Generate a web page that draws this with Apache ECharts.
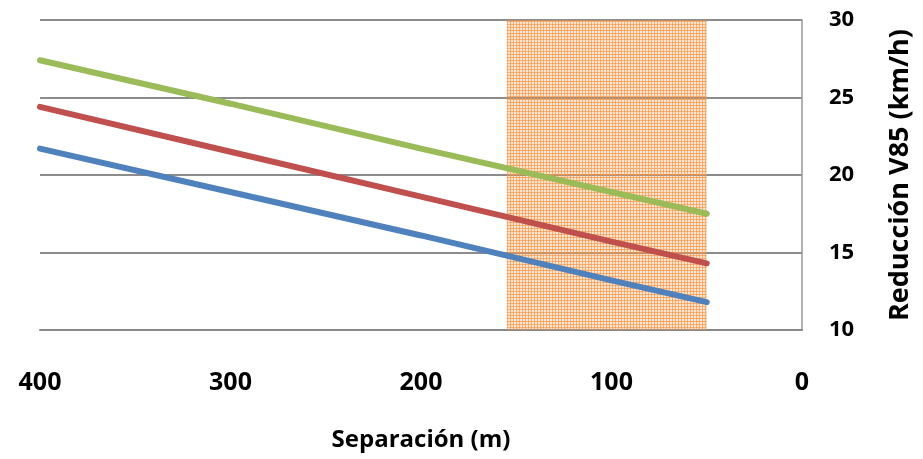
<!DOCTYPE html>
<html>
<head>
<meta charset="utf-8">
<script src="https://cdn.jsdelivr.net/npm/echarts@6/dist/echarts.min.js"></script>
<style>
    html, body { margin: 0; padding: 0; background: #fff; }
    #chart { width: 923px; height: 459px; }
</style>
</head>
<body>
<div id="chart"></div>
<script>
// separación (m) y reducción V85 (km/h)
const separacion = [400, 300, 200, 100, 50];
const serieVerde = [27.4, 24.6, 21.7, 18.9, 17.5];
const serieRoja = [24.4, 21.5, 18.6, 15.7, 14.3];
const serieAzul = [21.7, 18.9, 16.1, 13.2, 11.8];
const zonaSombreada = [50, 155];
const xTicks = [0, 100, 200, 300, 400];
const yTicks = [10, 15, 20, 25, 30];

const font = '"Open Sans", sans-serif';

function pares(vals) {
    return separacion.map((x, i) => [x, vals[i]]);
}

// trama naranja tipo rejilla
function trama() {
    const c = document.createElement('canvas');
    c.width = 3; c.height = 3;
    const ctx = c.getContext('2d');
    ctx.fillStyle = 'rgba(247,150,70,0.75)';
    ctx.fillRect(0, 0, 3, 1);
    ctx.fillRect(0, 0, 1, 3);
    ctx.fillStyle = 'rgba(247,150,70,0.25)';
    ctx.fillRect(1, 1, 2, 2);
    return c;
}

const chart = echarts.init(document.getElementById('chart'));

const lineSerie = (vals, color) => ({
    type: 'line',
    data: pares(vals),
    showSymbol: false,
    z: 2,
    lineStyle: { color: color, width: 6, cap: 'round' },
    itemStyle: { color: color }
});

chart.setOption({
    animation: false,
    grid: { left: 40, right: 121, top: 20, bottom: 129 },
    xAxis: {
        type: 'value',
        inverse: true,
        min: xTicks[0],
        max: xTicks[xTicks.length - 1],
        interval: 100,
        name: 'Separación (m)',
        nameLocation: 'middle',
        nameGap: 98,
        nameTextStyle: { fontFamily: font, fontWeight: 'bold', fontSize: 24, color: '#000' },
        axisLine: { show: true, lineStyle: { color: '#888', width: 2 } },
        axisTick: { show: false },
        axisLabel: { margin: 40, fontFamily: font, fontWeight: 'bold', fontSize: 25, color: '#000' },
        splitLine: { show: false }
    },
    yAxis: {
        type: 'value',
        position: 'right',
        min: yTicks[0],
        max: yTicks[yTicks.length - 1],
        interval: 5,
        name: 'Reducción V85 (km/h)',
        nameLocation: 'middle',
        nameGap: 85,
        nameTextStyle: { fontFamily: font, fontWeight: 'bold', fontSize: 27, color: '#000' },
        axisLine: { show: true, lineStyle: { color: '#999', width: 1.5 } },
        axisTick: { show: false },
        axisLabel: { margin: 27, fontFamily: font, fontWeight: 'bold', fontSize: 22, color: '#000' },
        splitLine: { show: true, lineStyle: { color: '#8c8c8c', width: 2 } }
    },
    series: [
        lineSerie(serieVerde, '#9BBB59'),
        lineSerie(serieRoja, '#C0504D'),
        lineSerie(serieAzul, '#4F81BD'),
        {
            type: 'line',
            data: [],
            z: 5,
            silent: true,
            markArea: {
                silent: true,
                itemStyle: { color: { image: trama(), repetition: 'repeat' } },
                data: [[{ xAxis: zonaSombreada[1], yAxis: 30 }, { xAxis: zonaSombreada[0], yAxis: 10 }]]
            }
        }
    ]
});
</script>
</body>
</html>
